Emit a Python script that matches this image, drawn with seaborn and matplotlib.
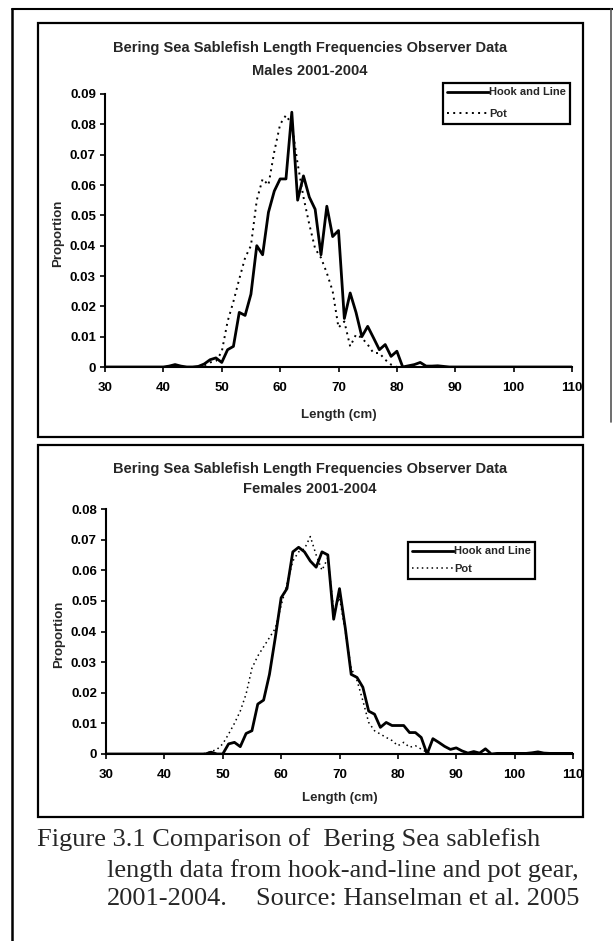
import seaborn as sns
import pandas as pd
import matplotlib.pyplot as plt
from matplotlib.patches import Rectangle
from matplotlib.lines import Line2D

# length classes (cm)
lengths = list(range(30, 111))

# males 2001-2004
male_hook = [0, 0, 0, 0, 0, 0, 0, 0, 0, 0,
             0, 0.0003, 0.0008, 0.0003, 0, 0, 0.0002, 0.001, 0.0024, 0.003,
             0.0015, 0.0057, 0.0068, 0.018, 0.017, 0.024, 0.040, 0.037, 0.051, 0.058,
             0.062, 0.062, 0.084, 0.055, 0.063, 0.056, 0.052, 0.037, 0.053, 0.043,
             0.045, 0.016, 0.0244, 0.018, 0.010, 0.0134, 0.0096, 0.0057, 0.0074, 0.0035,
             0.0052, 0, 0.0004, 0.0008, 0.0015, 0.0003, 0.0003, 0.0004, 0.0002, 0,
             0, 0, 0, 0, 0, 0, 0, 0, 0, 0,
             0, 0, 0, 0, 0, 0, 0, 0, 0, 0,
             0]
male_pot = [0, 0, 0, 0, 0, 0, 0, 0, 0, 0,
            0, 0, 0, 0, 0, 0, 0, 0.0005, 0.0015, 0.002,
            0.005, 0.015, 0.0216, 0.029, 0.036, 0.040, 0.055, 0.062, 0.060, 0.071,
            0.080, 0.083, 0.080, 0.067, 0.056, 0.047, 0.039, 0.036, 0.031, 0.025,
            0.013, 0.015, 0.0068, 0.0107, 0.0096, 0.0074, 0.0046, 0.0046, 0.0024, 0.0008,
            0, 0, 0, 0, 0, 0, 0, 0, 0, 0,
            0, 0, 0, 0, 0, 0, 0, 0, 0, 0,
            0, 0, 0, 0, 0, 0, 0, 0, 0, 0,
            0]

# females 2001-2004
female_hook = [0, 0, 0, 0, 0, 0, 0, 0, 0, 0,
               0, 0, 0, 0, 0, 0, 0, 0, 0.0006, 0,
               0, 0.0033, 0.0038, 0.0024, 0.0067, 0.0076, 0.0163, 0.0176, 0.026, 0.038,
               0.051, 0.054, 0.066, 0.0675, 0.066, 0.063, 0.061, 0.066, 0.065, 0.044,
               0.054, 0.041, 0.026, 0.025, 0.0218, 0.014, 0.013, 0.0087, 0.0103, 0.0093,
               0.0093, 0.0093, 0.007, 0.007, 0.0054, 0, 0.005, 0.0038, 0.0025, 0.0015,
               0.002, 0.001, 0.0003, 0.0008, 0.0003, 0.0017, 0, 0.0002, 0.0002, 0.0002,
               0.0002, 0.0002, 0.0002, 0.0004, 0.0007, 0.0003, 0.0002, 0.0002, 0.0002, 0.0002,
               0.0002]
female_pot = [0, 0, 0, 0, 0, 0, 0, 0, 0, 0,
              0, 0, 0, 0, 0, 0, 0, 0.0002, 0.0008, 0.0015,
              0.0033, 0.0065, 0.010, 0.014, 0.0196, 0.028, 0.032, 0.035, 0.038, 0.041,
              0.0485, 0.0555, 0.063, 0.066, 0.067, 0.071, 0.065, 0.060, 0.064, 0.047,
              0.051, 0.040, 0.028, 0.024, 0.0174, 0.0103, 0.0076, 0.0065, 0.0054, 0.0044,
              0.0027, 0.0038, 0.0022, 0.0027, 0.0016, 0.0005, 0, 0, 0, 0,
              0, 0, 0, 0, 0, 0, 0, 0, 0, 0,
              0, 0, 0, 0, 0, 0, 0, 0, 0, 0,
              0]

x_ticks = [30, 40, 50, 60, 70, 80, 90, 100, 110]
male_yticks = [0, 0.01, 0.02, 0.03, 0.04, 0.05, 0.06, 0.07, 0.08, 0.09]
male_ylabels = ['0', '0.01', '0.02', '0.03', '0.04', '0.05', '0.06', '0.07', '0.08', '0.09']
female_yticks = [0, 0.01, 0.02, 0.03, 0.04, 0.05, 0.06, 0.07, 0.08]
female_ylabels = ['0', '0.01', '0.02', '0.03', '0.04', '0.05', '0.06', '0.07', '0.08']

title_line1 = 'Bering Sea Sablefish Length Frequencies Observer Data'

sns.set_style('white')
plt.rcParams['font.family'] = ['Liberation Sans', 'DejaVu Sans']

W, H = 613, 941
fig = plt.figure(figsize=(W / 100, H / 100), dpi=100)


def fx(px):
    return px / W


def fy(py):
    return 1 - py / H


def draw_panel(rect, hook, pot, yticks, ylabels, ymax, pot_lw, leg_xy, leg_spacing):
    ax = fig.add_axes(rect)
    df = pd.DataFrame({'Length': lengths, 'Hook and Line': hook, 'Pot': pot})
    sns.lineplot(data=df, x='Length', y='Hook and Line', color='black', lw=2.0,
                 label='Hook and Line', ax=ax)
    sns.lineplot(data=df, x='Length', y='Pot', color='black', lw=pot_lw,
                 linestyle=(0, (1, 2.2)), label='Pot', ax=ax)
    ax.set_xlim(30, 110)
    ax.set_ylim(0, ymax)
    ax.set_xticks(x_ticks)
    ax.set_xticklabels([str(t) for t in x_ticks])
    ax.set_yticks(yticks)
    ax.set_yticklabels(ylabels)
    for s in ['top', 'right']:
        ax.spines[s].set_visible(False)
    for s in ['left', 'bottom']:
        ax.spines[s].set_color('black')
        ax.spines[s].set_linewidth(1.5)
    ax.tick_params(axis='y', direction='out', length=3.5, width=1.2, pad=3,
                   labelsize=9.5, colors='black', left=True)
    ax.tick_params(axis='x', direction='out', length=3.5, width=1.2, pad=7,
                   labelsize=9.5, colors='black', bottom=True)
    for lab in ax.get_xticklabels() + ax.get_yticklabels():
        lab.set_fontweight('bold')
    ax.set_xlabel('Length (cm)', fontsize=9.5, fontweight='bold')
    ax.set_ylabel('Proportion', fontsize=9.5, fontweight='bold')
    ax.xaxis.set_label_coords(0.5, -0.155)
    ax.yaxis.set_label_coords(-0.088, 0.49)
    ax.set_facecolor('white')
    leg = ax.legend(loc='upper left', bbox_to_anchor=leg_xy, bbox_transform=fig.transFigure,
                    borderaxespad=0, frameon=True, fancybox=False, framealpha=1,
                    edgecolor='black', handlelength=3.7, handletextpad=0.05,
                    labelspacing=leg_spacing, borderpad=0.4,
                    prop={'size': 8, 'weight': 'bold'})
    leg.get_frame().set_linewidth(1.6)
    return ax


# top panel: males
draw_panel([fx(105), fy(367), fx(467), 273 / H], male_hook, male_pot,
           male_yticks, male_ylabels, 0.09, 1.4, (fx(443), fy(83)), 1.05)
# bottom panel: females
draw_panel([fx(106), fy(754), fx(467), 245 / H], female_hook, female_pot,
           female_yticks, female_ylabels, 0.08, 1.1, (fx(408), fy(542)), 0.7)

# chart area frames
fig.patches.append(Rectangle((fx(38), fy(437)), fx(545), 414 / H, transform=fig.transFigure,
                             fill=False, edgecolor='black', lw=1.6))
fig.patches.append(Rectangle((fx(38), fy(817)), fx(545), 372 / H, transform=fig.transFigure,
                             fill=False, edgecolor='black', lw=1.6))

# page border lines
fig.lines.append(Line2D([fx(12), fx(12)], [fy(9), 0], transform=fig.transFigure,
                        color='black', lw=1.8))
fig.lines.append(Line2D([fx(12), 1], [fy(9), fy(9)], transform=fig.transFigure,
                        color='black', lw=1.5))
fig.lines.append(Line2D([fx(611), fx(611)], [fy(9), fy(422)], transform=fig.transFigure,
                        color='#555555', lw=1.2))

# chart titles
fig.text(fx(310), fy(48), title_line1, ha='center', va='center', fontsize=10.5, fontweight='bold')
fig.text(fx(310), fy(71), 'Males 2001-2004', ha='center', va='center', fontsize=10.5, fontweight='bold')
fig.text(fx(310), fy(469), title_line1, ha='center', va='center', fontsize=10.5, fontweight='bold')
fig.text(fx(310), fy(489), 'Females 2001-2004', ha='center', va='center', fontsize=10.5, fontweight='bold')

# figure caption
cap_font = ['Liberation Serif', 'DejaVu Serif']
fig.text(fx(37), fy(840), 'Figure 3.1 Comparison of  Bering Sea sablefish',
         ha='left', va='center', fontsize=19, family=cap_font)
fig.text(fx(107), fy(871), 'length data from hook-and-line and pot gear,',
         ha='left', va='center', fontsize=19, family=cap_font)
fig.text(fx(107), fy(899), '2001-2004.', ha='left', va='center', fontsize=19, family=cap_font)
fig.text(fx(256), fy(899), 'Source: Hanselman et al. 2005', ha='left', va='center',
         fontsize=19, family=cap_font)

fig.savefig('out.png', dpi=100, facecolor='white')
